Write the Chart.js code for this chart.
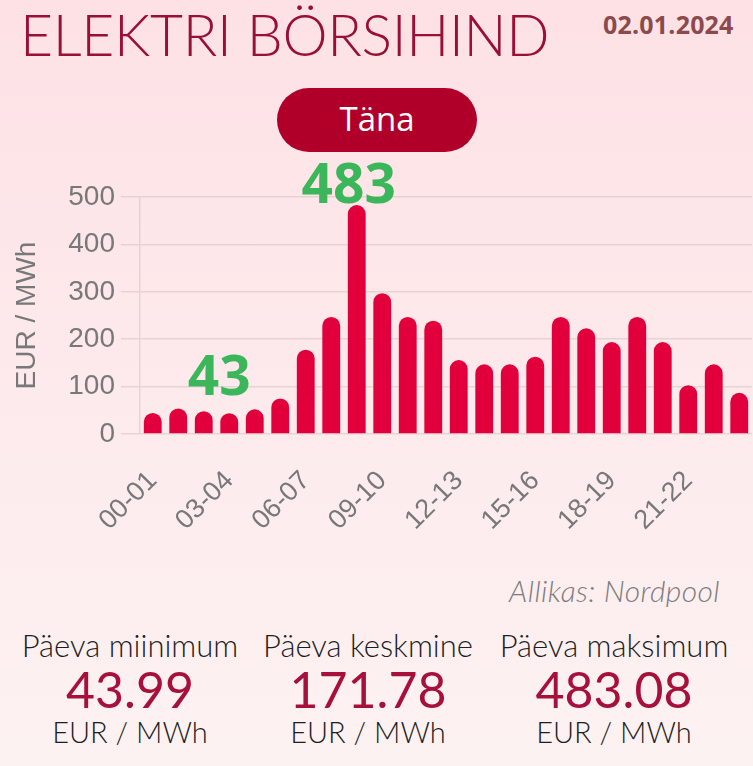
<!DOCTYPE html>
<html>
<head>
<meta charset="utf-8">
<script src="https://cdn.jsdelivr.net/npm/chart.js@4.4.1/dist/chart.umd.min.js"></script>
<style>
  html, body { margin: 0; padding: 0; }
  body {
    width: 753px; height: 766px; overflow: hidden; position: relative;
    background: linear-gradient(to bottom, #fde1e5 0%, #fde9eb 45%, #fdf2f2 100%);
    font-family: Lato, "Open Sans", sans-serif;
  }
  #title { position: absolute; left: 20px; top: 0px; font-family: Lato; font-weight: 300;
    font-size: 57px; color: #9a0f35; letter-spacing: -0.3px; white-space: nowrap; }
  #date { position: absolute; left: 603px; top: 7px; font-family: "Open Sans"; font-weight: 700;
    font-size: 25px; color: #8c4a4c; letter-spacing: 0.2px; }
  #btn { position: absolute; left: 277px; top: 88px; width: 200px; height: 64px; border-radius: 32px;
    background: #b0002a; color: #fff; font-family: "Open Sans"; font-size: 33px; text-align: center;
    line-height: 62px; }
  #chartWrap { position: absolute; left: 0; top: 150px; width: 753px; height: 420px; }
  #source { position: absolute; right: 33px; top: 572px; font-family: Lato; font-style: italic; font-weight: 300;
    font-size: 30px; letter-spacing: 0.4px; color: #7d7d7d; }
  .stat { position: absolute; top: 627px; width: 250px; text-align: center; color: #1e1e1e; }
  .stat .lbl { font-family: Lato; font-weight: 300; font-size: 31px; line-height: 37px; }
  .stat .val { font-family: Lato; font-weight: 400; font-size: 50px; line-height: 50px; color: #a8103c; }
  .stat .unit { font-family: Lato; font-weight: 300; font-size: 29px; line-height: 36px; }
</style>
</head>
<body>
<div id="title">ELEKTRI BÖRSIHIND</div>
<div id="date">02.01.2024</div>
<div id="btn">Täna</div>
<div id="chartWrap"><canvas id="c" width="753" height="420"></canvas></div>
<div id="source">Allikas: Nordpool</div>
<div class="stat" style="left:5px"><div class="lbl">Päeva miinimum</div><div class="val">43.99</div><div class="unit">EUR / MWh</div></div>
<div class="stat" style="left:243px"><div class="lbl">Päeva keskmine</div><div class="val">171.78</div><div class="unit">EUR / MWh</div></div>
<div class="stat" style="left:489px"><div class="lbl">Päeva maksimum</div><div class="val">483.08</div><div class="unit">EUR / MWh</div></div>
<script>
const hours = ["00-01","01-02","02-03","03-04","04-05","05-06","06-07","07-08","08-09","09-10","10-11","11-12",
               "12-13","13-14","14-15","15-16","16-17","17-18","18-19","19-20","20-21","21-22","22-23","23-24"];
const prices = [44.5, 54, 48, 43.99, 52, 75, 178, 247, 483.08, 297, 247, 239,
                156, 147, 147, 163, 247, 223, 194, 247, 194, 103, 147, 87];
const yTicks = [0, 100, 200, 300, 400, 500];
const minLabel = "43";
const maxLabel = "483";

const extremesPlugin = {
  id: 'extremes',
  afterDatasetsDraw(chart) {
    const ctx = chart.ctx;
    const meta = chart.getDatasetMeta(0);
    const iMin = prices.indexOf(Math.min(...prices));
    const iMax = prices.indexOf(Math.max(...prices));
    ctx.save();
    ctx.font = "700 55px 'Open Sans'";
    ctx.fillStyle = '#3bb65a';
    ctx.textAlign = 'center';
    ctx.textBaseline = 'alphabetic';
    const pMax = meta.data[iMax];
    ctx.fillText(maxLabel, pMax.x - 8, pMax.y - 2);
    const pMin = meta.data[iMin];
    ctx.fillText(minLabel, pMin.x - 10, pMin.y - 18);
    ctx.restore();
  }
};

new Chart(document.getElementById('c'), {
  type: 'bar',
  data: {
    labels: hours,
    datasets: [{
      data: prices,
      backgroundColor: '#e1003b',
      borderRadius: { topLeft: 9, topRight: 9, bottomLeft: 0, bottomRight: 0 },
      borderSkipped: 'start',
      categoryPercentage: 1.0,
      barPercentage: 0.7
    }]
  },
  options: {
    responsive: false,
    animation: false,
    layout: { padding: { top: 47, right: 1, left: 0, bottom: 0 } },
    plugins: { legend: { display: false }, tooltip: { enabled: false } },
    scales: {
      x: {
        grid: { display: false, drawTicks: false },
        border: { display: false },
        afterFit(s) { s.height = 136; s.paddingRight = 0; s.paddingLeft = 0; },
        ticks: {
          autoSkip: false, maxRotation: 45, minRotation: 45, padding: 31,
          color: '#787878', font: { family: 'Liberation Sans', size: 27 },
          callback(v, i) { return i % 3 === 0 ? hours[i] : ''; }
        }
      },
      y: {
        min: yTicks[0], max: yTicks[yTicks.length - 1],
        afterFit(s) { s.width = 140; },
        afterBuildTicks(s) { s.ticks = yTicks.map(v => ({ value: v })); },
        grid: { color: 'rgba(0,0,0,0.09)', lineWidth: 1.5, tickLength: 19 },
        border: { display: true, color: 'rgba(0,0,0,0.09)', width: 1.5 },
        ticks: { padding: 6, color: '#787878', font: { family: 'Liberation Sans', size: 28 } },
        title: { display: true, text: 'EUR / MWh', color: '#787878', padding: { top: 10, bottom: 0 },
                 font: { family: 'Liberation Sans', size: 28 } }
      }
    }
  },
  plugins: [extremesPlugin]
});
</script>
</body>
</html>
